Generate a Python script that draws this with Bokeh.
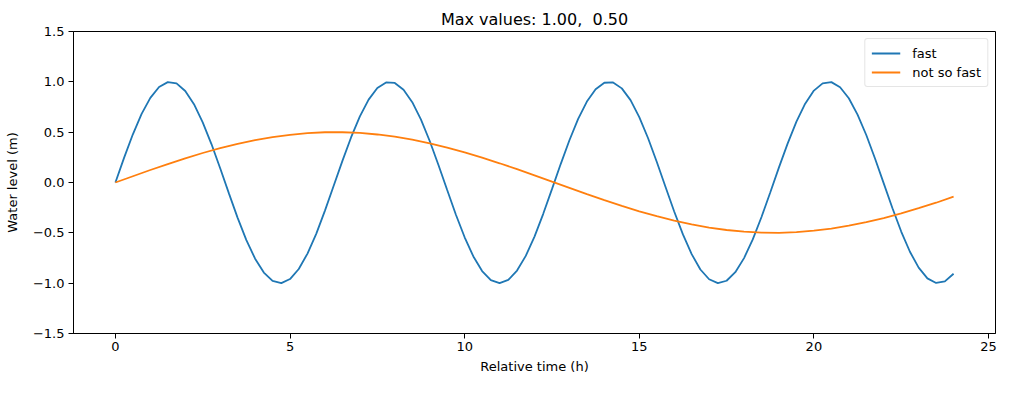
from bokeh.plotting import figure
from bokeh.models import Range1d, Legend, LegendItem, FixedTicker, Title
from bokeh.embed import file_html
from bokeh.resources import INLINE

# Data
fast_t = [i * 0.25 for i in range(97)]
fast_level = [
    0.000, 0.247, 0.479, 0.682, 0.841, 0.949, 0.997, 0.984, 0.909, 0.778,
    0.598, 0.382, 0.141, -0.108, -0.351, -0.572, -0.757, -0.895, -0.978, -0.999,
    -0.959, -0.859, -0.706, -0.510, -0.279, -0.033, 0.215, 0.450, 0.657, 0.823,
    0.938, 0.994, 0.989, 0.922, 0.798, 0.625, 0.412, 0.174, -0.075, -0.320,
    -0.544, -0.735, -0.880, -0.970, -1.000, -0.968, -0.875, -0.729, -0.537, -0.311,
    -0.066, 0.183, 0.420, 0.632, 0.804, 0.926, 0.991, 0.994, 0.935, 0.818,
    0.650, 0.442, 0.206, -0.042, -0.288, -0.516, -0.712, -0.864, -0.961, -1.000,
    -0.976, -0.891, -0.751, -0.565, -0.343, -0.100, 0.150, 0.389, 0.605, 0.783,
    0.913, 0.985, 0.997, 0.946, 0.837, 0.675, 0.472, 0.239, -0.009, -0.256,
    -0.487, -0.688, -0.846, -0.952, -0.998, -0.982, -0.906,
]
slow_t = [i * 0.5 for i in range(49)]
slow_level = [
    0.000, 0.062, 0.124, 0.183, 0.240, 0.293, 0.341, 0.384, 0.421, 0.451,
    0.474, 0.490, 0.499, 0.499, 0.492, 0.477, 0.455, 0.425, 0.389, 0.347,
    0.299, 0.247, 0.191, 0.132, 0.071, 0.008, -0.054, -0.116, -0.175, -0.233,
    -0.286, -0.335, -0.378, -0.416, -0.448, -0.472, -0.489, -0.498, -0.500, -0.493,
    -0.479, -0.458, -0.429, -0.394, -0.353, -0.306, -0.255, -0.201, -0.140,
]
x_ticks = [0, 5, 10, 15, 20, 25]
y_ticks = [-1.5, -1.0, -0.5, 0.0, 0.5, 1.0, 1.5]
title_text = "Max values: 1.00,\u00a0 0.50"
series_names = ["fast", "not so fast"]
colors = ["#1f77b4", "#ff7f0e"]

FONT = "DejaVu Sans"

p = figure(width=998, height=377, output_backend="svg", toolbar_location=None,
           x_range=Range1d(-1.2, 25.2), y_range=Range1d(-1.5, 1.5),
           min_border_left=73, min_border_right=3, min_border_top=31,
           min_border_bottom=44)
p.title = Title(text=title_text, align="center", text_font=FONT,
                text_font_size="16px", text_font_style="normal",
                text_color="black", standoff=6)

r1 = p.line(fast_t, fast_level, line_color=colors[0], line_width=1.8)
r2 = p.line(slow_t, slow_level, line_color=colors[1], line_width=1.8)

p.xgrid.visible = False
p.ygrid.visible = False
p.outline_line_color = "black"
p.outline_line_width = 1
p.outline_line_alpha = 1

for ax in (p.xaxis[0], p.yaxis[0]):
    ax.axis_line_color = "black"
    ax.major_tick_line_color = "black"
    ax.major_tick_in = 0
    ax.major_tick_out = 5
    ax.minor_tick_line_color = None
    ax.major_label_text_font = FONT
    ax.major_label_text_font_size = "13px"
    ax.major_label_text_color = "black"
    ax.axis_label_text_font = FONT
    ax.axis_label_text_font_size = "13px"
    ax.axis_label_text_font_style = "normal"
    ax.axis_label_text_color = "black"

p.xaxis[0].ticker = FixedTicker(ticks=x_ticks)
p.yaxis[0].ticker = FixedTicker(ticks=y_ticks)
p.xaxis[0].axis_label = "Relative time (h)"
p.yaxis[0].axis_label = "Water level (m)"
p.xaxis[0].major_label_overrides = {t: str(t) for t in x_ticks}
p.yaxis[0].major_label_overrides = {t: ("%.1f" % t).replace("-", "\u2212") for t in y_ticks}
p.xaxis[0].major_label_standoff = 3
p.yaxis[0].major_label_standoff = 4
p.xaxis[0].axis_label_standoff = 5
p.yaxis[0].axis_label_standoff = 10

legend = Legend(items=[LegendItem(label=series_names[0], renderers=[r1]),
                       LegendItem(label=series_names[1], renderers=[r2])],
                location="top_right")
legend.label_text_font = FONT
legend.label_text_font_size = "13px"
legend.label_text_color = "black"
legend.border_line_color = "#cccccc"
legend.border_line_width = 1
legend.border_radius = 3
legend.background_fill_alpha = 0.8
legend.glyph_width = 29
legend.glyph_height = 16
legend.label_standoff = 12
legend.spacing = 3
legend.padding = 6
legend.margin = 7
p.add_layout(legend)

open("out.html", "w").write(file_html(p, INLINE))
